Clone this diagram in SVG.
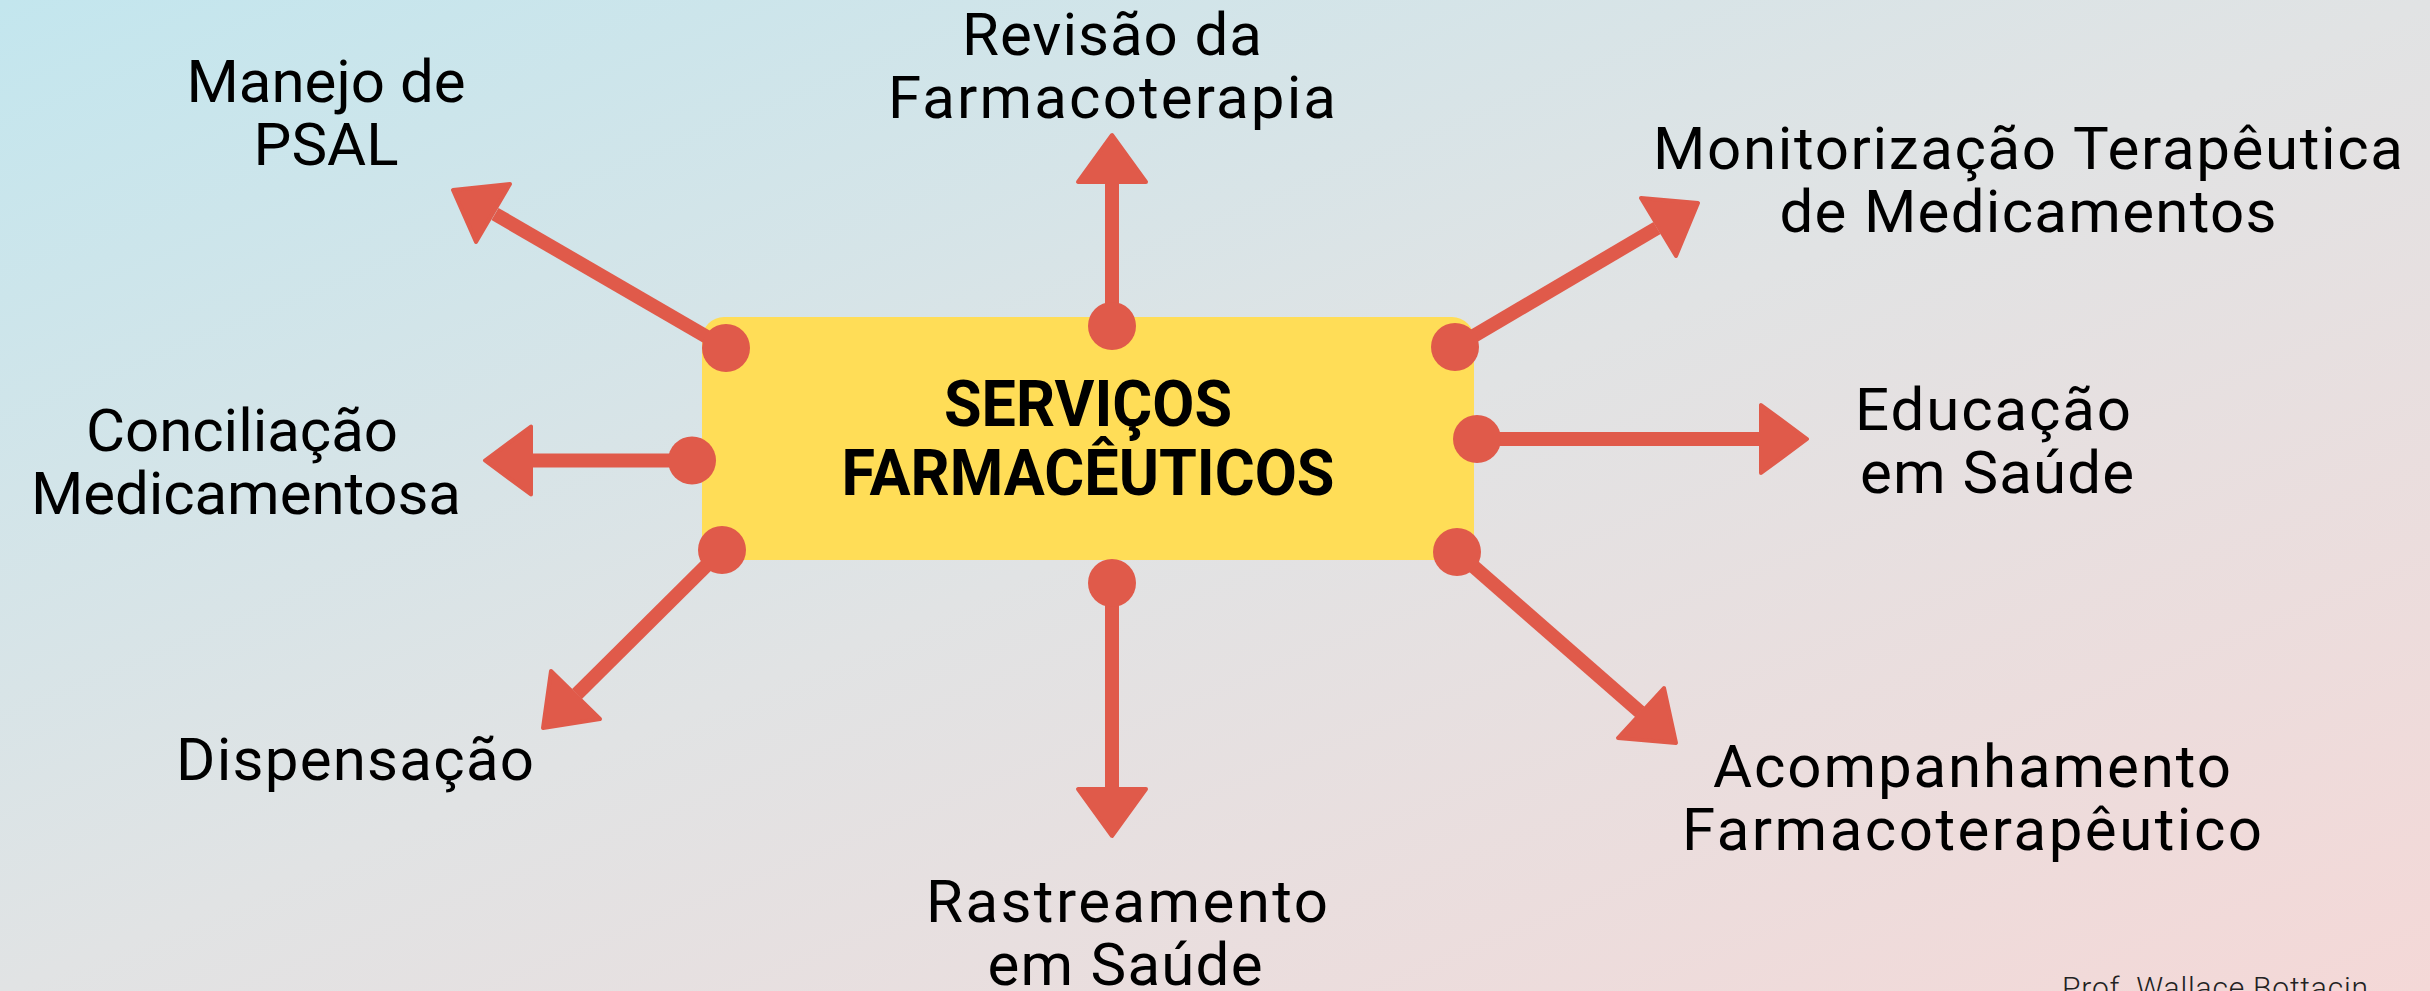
<svg xmlns="http://www.w3.org/2000/svg" width="2430" height="991" viewBox="0 0 2430 991">
  <defs>
    <linearGradient id="bg" x1="0" y1="0" x2="1" y2="1">
      <stop offset="0" stop-color="#C3E6EE"/>
      <stop offset="0.5" stop-color="#E1E3E4"/>
      <stop offset="1" stop-color="#F4D8D7"/>
    </linearGradient>
    <style>
      .lbl { font-family: Roboto, "Liberation Sans", sans-serif; font-size: 60px; fill: #000; text-anchor: middle; }
      .title { font-family: Roboto, "Liberation Sans", sans-serif; font-size: 64px; font-weight: bold; fill: #000; text-anchor: middle; }
      .credit { font-family: Roboto, "Liberation Sans", sans-serif; font-size: 30px; font-weight: 300; fill: #222; }
      .shaft { stroke: #E05A4A; stroke-width: 14; fill: none; }
      .head { fill: #E05A4A; stroke: #E05A4A; stroke-width: 4; stroke-linejoin: round; }
      .dot { fill: #E05A4A; }
    </style>
  </defs>
  <rect x="0" y="0" width="2430" height="991" fill="url(#bg)"/>

  <g id="center">
    <rect x="702" y="317" width="772" height="243" rx="22" fill="#FFDD57"/>
    <text class="title" x="1088" y="426" textLength="288" lengthAdjust="spacingAndGlyphs">SERVIÇOS</text>
    <text class="title" x="1088" y="495" textLength="493" lengthAdjust="spacingAndGlyphs">FARMACÊUTICOS</text>
  </g>

  <g id="connectors">
    <!-- top -->
    <line class="shaft" x1="1112" y1="326" x2="1112" y2="184"/>
    <polygon class="head" points="1112,135 1078,182 1146,182"/>
    <circle class="dot" cx="1112" cy="326" r="24"/>
    <!-- bottom -->
    <line class="shaft" x1="1112" y1="583" x2="1112" y2="787"/>
    <polygon class="head" points="1112,836 1078,789 1146,789"/>
    <circle class="dot" cx="1112" cy="583" r="24"/>
    <!-- right -->
    <line class="shaft" x1="1477" y1="439" x2="1763" y2="439"/>
    <polygon class="head" points="1807,439 1761,405 1761,473"/>
    <circle class="dot" cx="1477" cy="439" r="24"/>
    <!-- left -->
    <line class="shaft" x1="692" y1="460.5" x2="529" y2="460.5"/>
    <polygon class="head" points="485,460.5 531,426.5 531,494.5"/>
    <circle class="dot" cx="692" cy="460.5" r="24"/>
    <!-- top-left -->
    <line class="shaft" x1="726" y1="348" x2="495" y2="214"/>
    <polygon class="head" points="453,190 510,184 476,242"/>
    <circle class="dot" cx="726" cy="348" r="24"/>
    <!-- top-right -->
    <line class="shaft" x1="1455" y1="347" x2="1657" y2="228"/>
    <polygon class="head" points="1698,203 1641,198 1676,256"/>
    <circle class="dot" cx="1455" cy="347" r="24"/>
    <!-- bottom-left -->
    <line class="shaft" x1="722" y1="550" x2="577" y2="694"/>
    <polygon class="head" points="543,728 551,671 600,719"/>
    <circle class="dot" cx="722" cy="550" r="24"/>
    <!-- bottom-right -->
    <line class="shaft" x1="1457" y1="552" x2="1640" y2="712"/>
    <polygon class="head" points="1676,743 1618,738 1664,688"/>
    <circle class="dot" cx="1457" cy="552" r="24"/>
  </g>

  <g id="revisao">
    <text class="lbl" x="1112" y="55" textLength="300">Revisão da</text>
    <text class="lbl" x="1112" y="118" textLength="448">Farmacoterapia</text>
  </g>
  <g id="manejo">
    <text class="lbl" x="326" y="102">Manejo de</text>
    <text class="lbl" x="326" y="165">PSAL</text>
  </g>
  <g id="monitorizacao">
    <text class="lbl" x="2028" y="169" textLength="750">Monitorização Terapêutica</text>
    <text class="lbl" x="2028" y="232" textLength="497">de Medicamentos</text>
  </g>
  <g id="conciliacao">
    <text class="lbl" x="242" y="451" textLength="312">Conciliação</text>
    <text class="lbl" x="246" y="514" textLength="430">Medicamentosa</text>
  </g>
  <g id="educacao">
    <text class="lbl" x="1993" y="430" textLength="276">Educação</text>
    <text class="lbl" x="1997" y="493" textLength="274">em Saúde</text>
  </g>
  <g id="dispensacao">
    <text class="lbl" x="355" y="780" textLength="358">Dispensação</text>
  </g>
  <g id="acompanhamento">
    <text class="lbl" x="1972" y="787" textLength="518">Acompanhamento</text>
    <text class="lbl" x="1972" y="850" textLength="580">Farmacoterapêutico</text>
  </g>
  <g id="rastreamento">
    <text class="lbl" x="1127" y="922" textLength="402">Rastreamento</text>
    <text class="lbl" x="1125" y="985" textLength="275">em Saúde</text>
  </g>
  <g id="credit">
    <text class="credit" x="2062" y="998" textLength="306">Prof. Wallace Bottacin</text>
  </g>
</svg>
